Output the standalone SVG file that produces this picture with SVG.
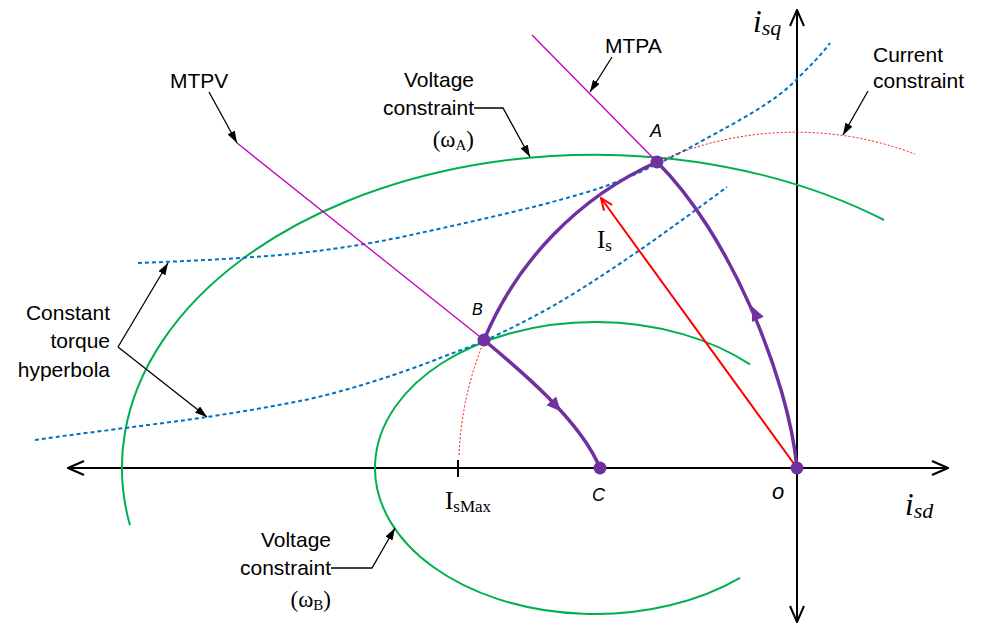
<svg xmlns="http://www.w3.org/2000/svg" width="987" height="626" viewBox="0 0 987 626">
<style>
.sans{font-family:"Liberation Sans",Arial,sans-serif;font-size:21px;fill:#000}
.it{font-family:"Liberation Sans",Arial,sans-serif;font-style:italic;fill:#000}
.serif{font-family:"Liberation Serif","Times New Roman",serif;fill:#000}
.axis{stroke:#000;stroke-width:2;fill:none}
.green{stroke:#00B050;stroke-width:2;fill:none}
.blue{stroke:#0070C0;stroke-width:2;fill:none;stroke-dasharray:4 3}
.reddot{stroke:#FF0000;stroke-width:1;fill:none;stroke-dasharray:2 2}
.purple{stroke:#7030A0;stroke-width:3.5;fill:none}
.mag{stroke:#C000C0;stroke-width:1.3;fill:none}
.ptr{stroke:#000;stroke-width:1.3;fill:none;marker-end:url(#ptrHead)}
.dot{fill:#7030A0}
</style>
<defs>
<marker id="ptrHead" viewBox="0 0 12 8" refX="12" refY="4" markerWidth="12" markerHeight="8" markerUnits="userSpaceOnUse" orient="auto"><path d="M0,0 L12,4 L0,8 Z" fill="#000"/></marker>
<marker id="axHead" viewBox="0 0 18 16" refX="17" refY="8" markerWidth="18" markerHeight="16" markerUnits="userSpaceOnUse" orient="auto-start-reverse"><path d="M1,1 L17,8 L1,15" fill="none" stroke="#000" stroke-width="2"/></marker>
<marker id="redHead" viewBox="0 0 14 12" refX="13" refY="6" markerWidth="14" markerHeight="12" markerUnits="userSpaceOnUse" orient="auto"><path d="M1,1 L13,6 L1,11" fill="none" stroke="#FF0000" stroke-width="2"/></marker>
</defs>

<g id="axes">
<line class="axis" x1="68" y1="468" x2="948" y2="468" marker-start="url(#axHead)" marker-end="url(#axHead)"/>
<line class="axis" x1="797" y1="622" x2="797" y2="10" marker-start="url(#axHead)" marker-end="url(#axHead)"/>
<line class="axis" x1="458" y1="460" x2="458" y2="477" stroke-width="1.5"/>
<text class="serif" x="753" y="32" font-style="italic" font-size="31">i<tspan font-size="22" dy="3">sq</tspan></text>
<text class="serif" x="905" y="515" font-style="italic" font-size="31">i<tspan font-size="22" dy="3">sd</tspan></text>
<text class="serif" x="445" y="509" font-size="25">I<tspan font-size="17" dy="3">sMax</tspan></text>
</g>

<g id="curves">
<path id="voltage-A" class="green" d="M130,525.3 A473,313 0 0 1 884,220"/>
<path id="voltage-B" class="green" d="M750,364.4 A220,146 0 1 0 740,577.8"/>
<path id="hyperbola-upper" class="blue" d="M138,263 C190,261 255,258 300,253 C345,248 385,241 420,233 C480,220 555,203 600,188 C635,176 675,156 700,142 C740,120 775,102 797,79 C810,66 822,54 830,43"/>
<path id="hyperbola-lower" class="blue" d="M35,440 C90,432 160,424 207,417 C240,412 270,407 300,401 C345,392 405,372 440,358 C455,352 470,347 484,341 C510,329 540,314 563,300 C590,284 615,267 640,250 C670,229 700,207 727,187"/>
<path id="current-constraint" class="reddot" d="M459,455 A337,337 0 0 1 915,154"/>
<line id="mtpa" class="mag" x1="532" y1="35" x2="657" y2="162"/>
<line id="mtpv" class="mag" x1="237" y1="143" x2="484" y2="340"/>
<line id="is-vector" x1="797" y1="468" x2="601" y2="198" stroke="#FF0000" stroke-width="2" marker-end="url(#redHead)"/>
<path id="path-OA" class="purple" d="M797,468 C788,375 728,232 657,162"/>
<path id="path-AB" class="purple" d="M657,162 A337,337 0 0 0 484,340"/>
<path id="path-BC" class="purple" d="M484,340 C520,370 580,420 600,468"/>
<polygon class="dot" points="7,0 -7,-6.5 -7,6.5" transform="translate(755,313) rotate(-114)"/>
<polygon class="dot" points="7,0 -7,-6.5 -7,6.5" transform="translate(556,406) rotate(48)"/>
</g>

<g id="node-A"><circle class="dot" cx="657" cy="162" r="6.5"/><text class="it" x="650" y="137" font-size="18">A</text></g>
<g id="node-B"><circle class="dot" cx="484" cy="340" r="6.5"/><text class="it" x="472" y="315" font-size="16">B</text></g>
<g id="node-C"><circle class="dot" cx="600" cy="468" r="6.5"/><text class="it" x="592" y="501" font-size="18">C</text></g>
<g id="node-O"><circle class="dot" cx="797" cy="468" r="6.5"/><text class="it" x="772" y="499" font-size="22">o</text></g>

<g id="label-Is"><text class="serif" x="597" y="248" font-size="25">I<tspan font-size="17" dy="3">s</tspan></text></g>
<g id="label-MTPA"><text class="sans" x="605" y="53">MTPA</text></g>
<g id="label-MTPV"><text class="sans" x="170" y="88">MTPV</text></g>
<g id="label-voltage-A">
<text class="sans" x="474" y="87" text-anchor="end">Voltage</text>
<text class="sans" x="474" y="115" text-anchor="end">constraint</text>
<text class="serif" x="474" y="147" text-anchor="end" font-size="23">(ω<tspan font-size="15" dy="3">A</tspan><tspan dy="-3">)</tspan></text>
</g>
<g id="label-current"><text class="sans" x="873" y="62" font-size="22">Current</text><text class="sans" x="873" y="88" font-size="22">constraint</text></g>
<g id="label-torque">
<text class="sans" x="110" y="320" text-anchor="end">Constant</text>
<text class="sans" x="110" y="348" text-anchor="end">torque</text>
<text class="sans" x="110" y="377" text-anchor="end">hyperbola</text>
</g>
<g id="label-voltage-B">
<text class="sans" x="331" y="547" text-anchor="end">Voltage</text>
<text class="sans" x="331" y="575" text-anchor="end">constraint</text>
<text class="serif" x="331" y="607" text-anchor="end" font-size="23">(ω<tspan font-size="15" dy="3">B</tspan><tspan dy="-3">)</tspan></text>
</g>

<g id="connectors">
<line class="ptr" x1="612" y1="57" x2="590" y2="92"/>
<line class="ptr" x1="209" y1="92" x2="237" y2="143"/>
<polyline class="ptr" points="474,108 503,108 530,157"/>
<line class="ptr" x1="868" y1="91" x2="843" y2="135"/>
<polyline class="ptr" points="118,347 168,263"/>
<polyline class="ptr" points="118,347 207,417"/>
<polyline class="ptr" points="331,568 372,568 395,528"/>
</g>
</svg>
